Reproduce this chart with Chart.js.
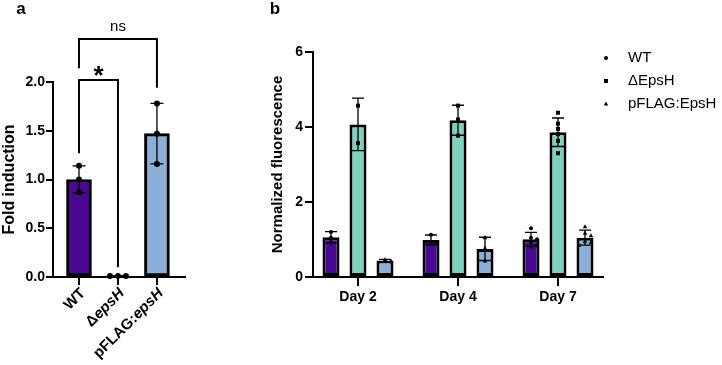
<!DOCTYPE html>
<html>
<head>
<meta charset="utf-8">
<script src="https://cdn.jsdelivr.net/npm/chart.js@4.4.1/dist/chart.umd.min.js"></script>
<style>
  body { margin: 0; background: #fff; }
  #wrap { position: relative; width: 722px; height: 365px; }
  #chartA { position: absolute; left: 0; top: 0; }
  #chartB { position: absolute; left: 230px; top: 0; }
</style>
</head>
<body>
<div id="wrap">
  <canvas id="chartA" width="230" height="365"></canvas>
  <canvas id="chartB" width="492" height="365"></canvas>
</div>
<script>
// ---- panel a data
var strainsA = ['WT', 'ΔepsH', 'pFLAG:epsH'];
var italicA = ['', 'epsH', 'epsH'];
var foldMean = [1.0, 0.01, 1.47];
var foldSd = [0.14, 0.005, 0.31];
var foldPts = [[1.14, 1.0, 0.87], [0.01, 0.01, 0.01], [1.78, 1.47, 1.16]];
var ticksA = [0, 0.5, 1.0, 1.5, 2.0];
// significance brackets: from / to strain index, bar height, leg ends, text
var brFrom = [0, 0];
var brTo = [1, 2];
var brY = [2.02, 2.44];
var brLeft = [1.27, 2.14];
var brRight = [0.10, 1.94];
var brText = ['*', 'ns'];

// ---- panel b data
var days = ['Day 2', 'Day 4', 'Day 7'];
var seriesB = ['WT', 'ΔEpsH', 'pFLAG:EpsH'];
var wtMean = [1.06, 0.99, 1.01];
var wtSd = [0.15, 0.13, 0.18];
var wtPts = [[1.2, 1.05, 0.93], [1.13, 0.93, 0.91], [1.30, 1.05, 1.01, 0.93, 0.84, 0.80]];
var dhMean = [4.07, 4.18, 3.86];
var dhSd = [0.70, 0.40, 0.38];
var dhPts = [[4.57, 3.57], [4.57, 4.2, 3.77], [4.38, 4.09, 3.95, 3.81, 3.63, 3.30]];
var pfMean = [0.44, 0.75, 1.05];
var pfSd = [0.03, 0.31, 0.20];
var pfPts = [[0.46, 0.42], [1.05, 0.77, 0.43], [1.34, 1.17, 1.10, 0.95, 0.92, 0.85]];
var ticksB = [0, 2, 4, 6];

var colors = ['#4a078f', '#7fd0bc', '#8daed6'];
var markers = ['circle', 'rect', 'triangle'];

Chart.defaults.font.family = 'Arial, "Liberation Sans", Helvetica, sans-serif';
Chart.defaults.color = '#000';

function drawMarker(ctx, style, x, y, r) {
  ctx.beginPath();
  if (style === 'rect') {
    ctx.rect(x - r, y - r, 2 * r, 2 * r);
  } else if (style === 'triangle') {
    ctx.moveTo(x, y - r * 1.3);
    ctx.lineTo(x + r * 1.1, y + r * 0.8);
    ctx.lineTo(x - r * 1.1, y + r * 0.8);
    ctx.closePath();
  } else {
    ctx.arc(x, y, r, 0, Math.PI * 2);
  }
  ctx.fill();
}

// error bars + individual points, placed on top of each bar element
function drawErrors(chart, sds, pts, styles, r, cap) {
  var ctx = chart.ctx, ys = chart.scales.y;
  ctx.save();
  ctx.strokeStyle = '#000';
  ctx.fillStyle = '#000';
  ctx.lineWidth = 1.3;
  chart.data.datasets.forEach(function (ds, di) {
    chart.getDatasetMeta(di).data.forEach(function (bar, j) {
      var m = ds.data[j].y, s = sds[di][j];
      var yt = ys.getPixelForValue(m + s), yb = ys.getPixelForValue(m - s);
      ctx.beginPath();
      ctx.moveTo(bar.x, yt); ctx.lineTo(bar.x, yb);
      ctx.moveTo(bar.x - cap, yt); ctx.lineTo(bar.x + cap, yt);
      ctx.moveTo(bar.x - cap, yb); ctx.lineTo(bar.x + cap, yb);
      ctx.stroke();
      var placed = [];
      pts[di][j].forEach(function (v) {
        var py = ys.getPixelForValue(v), dx = 0;
        for (var k = 0; k < 9; k++) {
          dx = (k % 2 ? 1 : -1) * Math.ceil(k / 2) * (2 * r + 2);
          if (!placed.some(function (p) { return Math.abs(p[0] - dx) < 2 * r && Math.abs(p[1] - py) < 2 * r; })) break;
        }
        placed.push([dx, py]);
        drawMarker(ctx, styles[di], bar.x + dx, py, r);
      });
    });
  });
  ctx.restore();
}

var panelA = {
  id: 'panelA',
  afterDatasetsDraw: function (chart) {
    drawErrors(chart, [foldSd], [foldPts], ['circle'], 3, 6.5);
  },
  afterDraw: function (chart) {
    var ctx = chart.ctx, xs = chart.scales.x, ys = chart.scales.y;
    ctx.save();
    // brackets
    ctx.strokeStyle = '#000';
    ctx.lineWidth = 2;
    for (var i = 0; i < brText.length; i++) {
      var x1 = xs.getPixelForValue(brFrom[i]), x2 = xs.getPixelForValue(brTo[i]);
      var yy = ys.getPixelForValue(brY[i]);
      ctx.beginPath();
      ctx.moveTo(x1, ys.getPixelForValue(brLeft[i]));
      ctx.lineTo(x1, yy);
      ctx.lineTo(x2, yy);
      ctx.lineTo(x2, ys.getPixelForValue(brRight[i]));
      ctx.stroke();
      ctx.fillStyle = '#000';
      ctx.textAlign = 'center';
      if (brText[i] === '*') {
        ctx.font = 'bold 26px Arial, "Liberation Sans", sans-serif';
        ctx.textBaseline = 'alphabetic';
        ctx.fillText(brText[i], (x1 + x2) / 2, yy + 4);
      } else {
        ctx.font = '15px Arial, "Liberation Sans", sans-serif';
        ctx.textBaseline = 'middle';
        ctx.fillText(brText[i], (x1 + x2) / 2, yy - 12);
      }
    }
    // rotated category labels with italic gene names
    var bottom = chart.chartArea.bottom;
    strainsA.forEach(function (lab, i) {
      var it = italicA[i];
      var plain = it ? lab.slice(0, lab.length - it.length) : lab;
      ctx.save();
      ctx.translate(xs.getPixelForValue(i) + 4, bottom + 14);
      ctx.rotate(-Math.PI / 4);
      ctx.textBaseline = 'middle';
      ctx.textAlign = 'left';
      ctx.font = 'bold 15px Arial, "Liberation Sans", sans-serif';
      var w1 = ctx.measureText(plain).width;
      ctx.font = 'italic bold 15px Arial, "Liberation Sans", sans-serif';
      var w2 = it ? ctx.measureText(it).width : 0;
      ctx.font = 'bold 15px Arial, "Liberation Sans", sans-serif';
      ctx.fillText(plain, -w1 - w2, 0);
      if (it) {
        ctx.font = 'italic bold 15px Arial, "Liberation Sans", sans-serif';
        ctx.fillText(it, -w2, 0);
      }
      ctx.restore();
    });
    // panel letter
    ctx.font = 'bold 17px Arial, "Liberation Sans", sans-serif';
    ctx.textAlign = 'center';
    ctx.textBaseline = 'alphabetic';
    ctx.fillText('a', 21, 14);
    ctx.restore();
  }
};

var panelB = {
  id: 'panelB',
  afterDatasetsDraw: function (chart) {
    drawErrors(chart, [wtSd, dhSd, pfSd], [wtPts, dhPts, pfPts], markers, 2, 6);
  },
  afterDraw: function (chart) {
    var ctx = chart.ctx;
    ctx.save();
    ctx.fillStyle = '#000';
    // legend
    ctx.font = '15px Arial, "Liberation Sans", sans-serif';
    ctx.textBaseline = 'middle';
    ctx.textAlign = 'left';
    seriesB.forEach(function (name, i) {
      var yy = 58 + i * 23;
      drawMarker(ctx, markers[i], 376, yy, 2);
      ctx.fillText(name, 398, yy);
    });
    ctx.font = 'bold 17px Arial, "Liberation Sans", sans-serif';
    ctx.textAlign = 'center';
    ctx.textBaseline = 'alphabetic';
    ctx.fillText('b', 45, 14);
    ctx.restore();
  }
};

function axisCommon() {
  return {
    border: { display: true, color: '#000', width: 2 },
    grid: { display: true, drawOnChartArea: false, drawTicks: true, color: '#000', lineWidth: 2 }
  };
}

// ---- panel a chart
var xa = axisCommon();
xa.type = 'linear';
xa.min = -0.667;
xa.max = 2.72;
xa.offset = false;
xa.grid.offset = false;
xa.grid.tickLength = 8;
xa.ticks = { display: false };
xa.afterBuildTicks = function (s) { s.ticks = strainsA.map(function (n, i) { return { value: i }; }); };
xa.afterFit = function (s) { s.height = 88; };

var ya = axisCommon();
ya.min = 0;
ya.max = 2;
ya.grid.tickLength = 7;
ya.ticks = { padding: 1, font: { size: 14, weight: 'bold' }, callback: function (v) { return v.toFixed(1); } };
ya.afterBuildTicks = function (s) { s.ticks = ticksA.map(function (v) { return { value: v }; }); };
ya.title = { display: true, text: 'Fold induction', padding: 0, font: { size: 16, weight: 'bold' } };
ya.afterFit = function (s) { s.width = 53; };

new Chart(document.getElementById('chartA'), {
  type: 'bar',
  data: {
    datasets: [{
      data: strainsA.map(function (n, i) { return { x: i, y: foldMean[i] }; }),
      backgroundColor: colors,
      borderColor: '#000',
      borderWidth: 3,
      borderSkipped: false,
      barThickness: 25
    }]
  },
  options: {
    responsive: false,
    animation: false,
    layout: { padding: { top: 82, left: 0, right: 45, bottom: 0 } },
    plugins: { legend: { display: false }, tooltip: { enabled: false } },
    scales: { x: xa, y: ya }
  },
  plugins: [panelA]
});

// ---- panel b chart
var xb = axisCommon();
xb.type = 'linear';
xb.min = -0.45;
xb.max = 2.45;
xb.offset = false;
xb.grid.offset = false;
xb.grid.tickLength = 9;
xb.ticks = { padding: 3, maxRotation: 0, font: { size: 14, weight: 'bold' }, callback: function (v) { return days[v]; } };
xb.afterBuildTicks = function (s) { s.ticks = days.map(function (d, i) { return { value: i }; }); };
xb.afterFit = function (s) { s.height = 88; };

var yb = axisCommon();
yb.min = 0;
yb.max = 6;
yb.grid.tickLength = 8;
yb.ticks = { padding: 2, font: { size: 14, weight: 'bold' } };
yb.afterBuildTicks = function (s) { s.ticks = ticksB.map(function (v) { return { value: v }; }); };
yb.title = { display: true, text: 'Normalized fluorescence', padding: 0, font: { size: 15, weight: 'bold' } };
yb.afterFit = function (s) { s.width = 44; };

var meansB = [wtMean, dhMean, pfMean];
new Chart(document.getElementById('chartB'), {
  type: 'bar',
  data: {
    datasets: seriesB.map(function (name, k) {
      return {
        label: name,
        data: days.map(function (d, i) { return { x: i, y: meansB[k][i] }; }),
        backgroundColor: colors[k],
        borderColor: '#000',
        borderWidth: 3,
        borderSkipped: false,
        categoryPercentage: 0.81,
        barPercentage: 0.63
      };
    })
  },
  options: {
    responsive: false,
    animation: false,
    layout: { padding: { top: 52, left: 39, right: 119, bottom: 0 } },
    plugins: { legend: { display: false }, tooltip: { enabled: false } },
    scales: { x: xb, y: yb }
  },
  plugins: [panelB]
});
</script>
</body>
</html>
